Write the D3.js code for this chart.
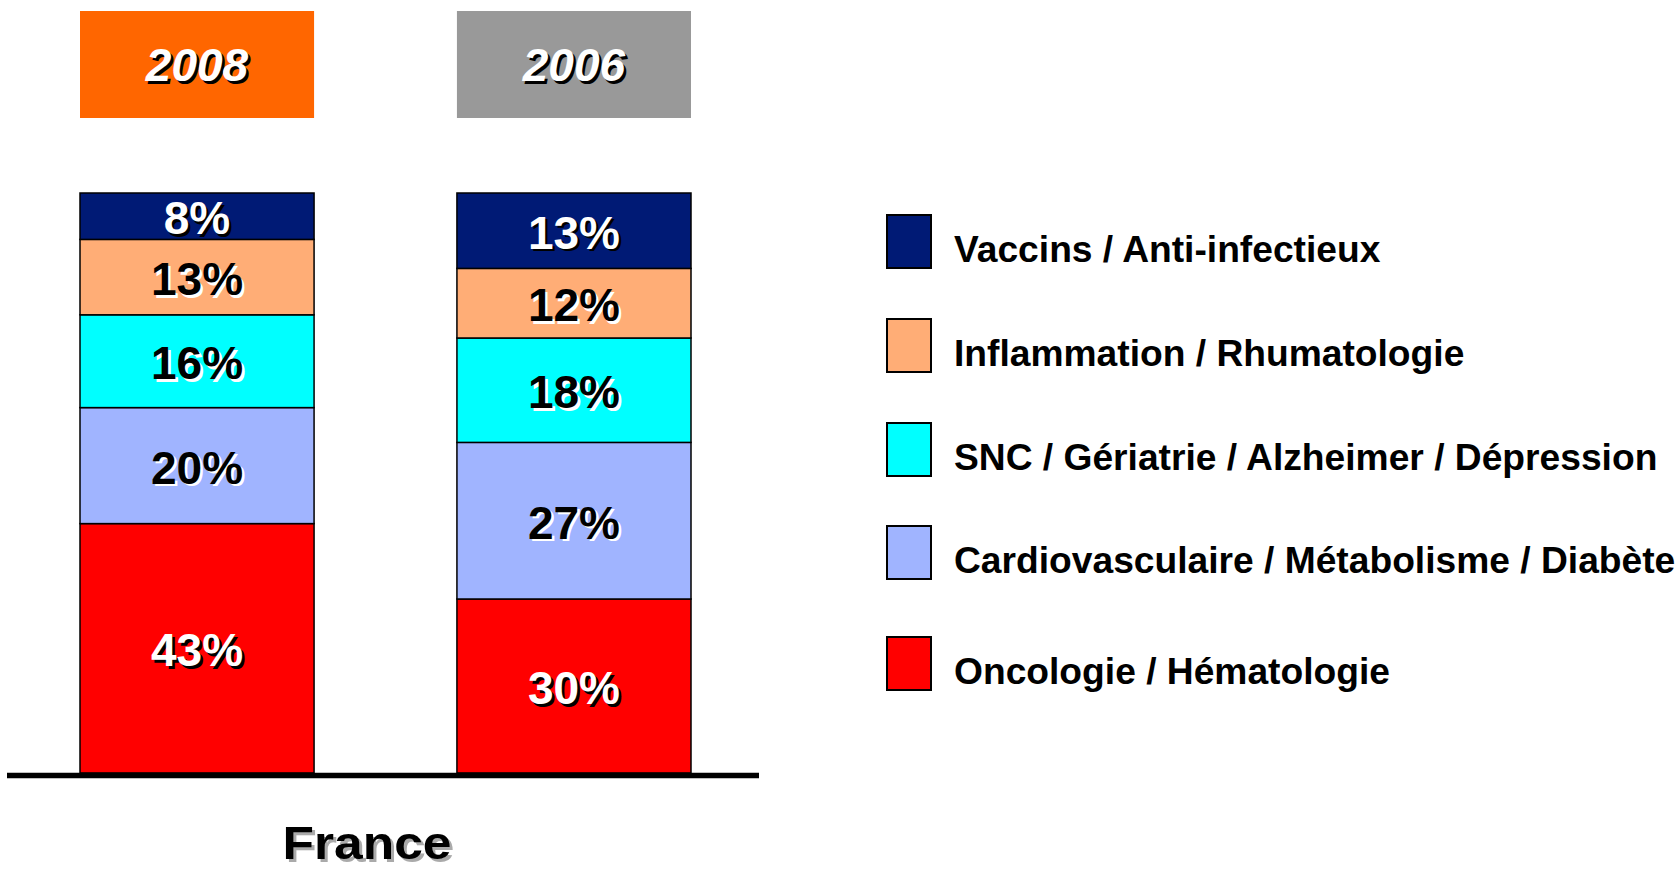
<!DOCTYPE html>
<html>
<head>
<meta charset="utf-8">
<script src="https://cdn.jsdelivr.net/npm/d3@7"></script>
<style>
  body { margin: 0; background: #fff; }
  svg { display: block; font-family: "Liberation Sans", Arial, sans-serif; font-weight: bold; }
</style>
</head>
<body>
<div id="chart"></div>
<script>
// Data
let years = ["2008", "2006"];
let yearColors = ["#FF6600", "#999999"];
let categories = [
  "Oncologie / Hématologie",
  "Cardiovasculaire / Métabolisme / Diabète",
  "SNC / Gériatrie / Alzheimer / Dépression",
  "Inflammation / Rhumatologie",
  "Vaccins / Anti-infectieux"
];
let values2008 = [43, 20, 16, 13, 8];
let values2006 = [30, 27, 18, 12, 13];
let catColors = ["#FF0000", "#A0B4FF", "#00FFFF", "#FFAD76", "#001A75"];
let labelColors = ["#fff", "#000", "#000", "#000", "#fff"];
let groupLabel = "France";

let width = 1679, height = 870;

let svg = d3.select("#chart").append("svg")
  .attr("width", width)
  .attr("height", height);

// rows for d3.stack
let rows = years.map(function(y, i) {
  let vals = i === 0 ? values2008 : values2006;
  let r = { year: y };
  categories.forEach((c, j) => r[c] = vals[j]);
  return r;
});
let stacked = d3.stack().keys(categories)(rows);

let x = d3.scaleBand()
  .domain(years)
  .range([80, 691])
  .paddingInner(0.379)
  .paddingOuter(0);

let y = d3.scaleLinear()
  .domain([0, 100])
  .range([773, 193]);

let color = d3.scaleOrdinal().domain(categories).range(catColors);
let textColor = d3.scaleOrdinal().domain(categories).range(labelColors);

// year header boxes
let head = svg.append("g");
head.selectAll("rect")
  .data(years)
  .enter().append("rect")
  .attr("x", d => x(d))
  .attr("y", 11)
  .attr("width", x.bandwidth())
  .attr("height", 107)
  .attr("fill", (d, i) => yearColors[i]);

[["#000", 2.5], ["#fff", 0]].forEach(function(s) {
  head.selectAll(null)
    .data(years)
    .enter().append("text")
    .attr("x", d => x(d) + x.bandwidth() / 2 + s[1])
    .attr("y", 81 + s[1])
    .attr("text-anchor", "middle")
    .attr("font-size", 46)
    .attr("font-style", "italic")
    .attr("fill", s[0])
    .text(d => d);
});

// stacked segments
let layers = svg.append("g").selectAll("g")
  .data(stacked)
  .enter().append("g")
  .attr("fill", d => color(d.key));

layers.selectAll("rect")
  .data(d => d.map(p => Object.assign(p, { key: d.key })))
  .enter().append("rect")
  .attr("x", d => x(d.data.year))
  .attr("y", d => y(d[1]))
  .attr("width", x.bandwidth())
  .attr("height", d => y(d[0]) - y(d[1]))
  .attr("stroke", "#000")
  .attr("stroke-width", 1.5);

// value labels with a drop shadow
let segs = stacked.flatMap(s => s.map(p => ({ key: s.key, y0: p[0], y1: p[1], year: p.data.year })));
let labels = svg.append("g")
  .attr("text-anchor", "middle")
  .attr("font-size", 46);

labels.selectAll(".shadow")
  .data(segs)
  .enter().append("text")
  .attr("class", "shadow")
  .attr("x", d => x(d.year) + x.bandwidth() / 2 + 2.5)
  .attr("y", d => (y(d.y0) + y(d.y1)) / 2 + 18 + 2.5)
  .attr("fill", d => textColor(d.key) === "#fff" ? "#000" : "#fff")
  .text(d => (d.y1 - d.y0) + "%");

labels.selectAll(".val")
  .data(segs)
  .enter().append("text")
  .attr("class", "val")
  .attr("x", d => x(d.year) + x.bandwidth() / 2)
  .attr("y", d => (y(d.y0) + y(d.y1)) / 2 + 18)
  .attr("fill", d => textColor(d.key))
  .text(d => (d.y1 - d.y0) + "%");

// baseline
svg.append("line")
  .attr("x1", 7).attr("x2", 759)
  .attr("y1", y(0) + 2.5).attr("y2", y(0) + 2.5)
  .attr("stroke", "#000")
  .attr("stroke-width", 5.5);

// group label
let gx = 367;
svg.append("text")
  .attr("transform", "translate(" + (gx + 3) + ",862) scale(1.12,1)")
  .attr("text-anchor", "middle")
  .attr("font-size", 46)
  .attr("fill", "#aaa")
  .text(groupLabel);
svg.append("text")
  .attr("transform", "translate(" + gx + ",859) scale(1.12,1)")
  .attr("text-anchor", "middle")
  .attr("font-size", 46)
  .attr("fill", "#000")
  .text(groupLabel);

// legend, top to bottom
let legendRowY = [215, 319, 423, 526, 637];
let legend = svg.append("g").selectAll("g")
  .data(categories.slice().reverse())
  .enter().append("g")
  .attr("transform", (d, i) => "translate(887," + legendRowY[i] + ")");

legend.append("rect")
  .attr("width", 44)
  .attr("height", 53)
  .attr("fill", d => color(d))
  .attr("stroke", "#000")
  .attr("stroke-width", 2);

legend.append("text")
  .attr("x", 67)
  .attr("y", 47)
  .attr("font-size", 37.2)
  .attr("fill", "#000")
  .text(d => d);
</script>
</body>
</html>
